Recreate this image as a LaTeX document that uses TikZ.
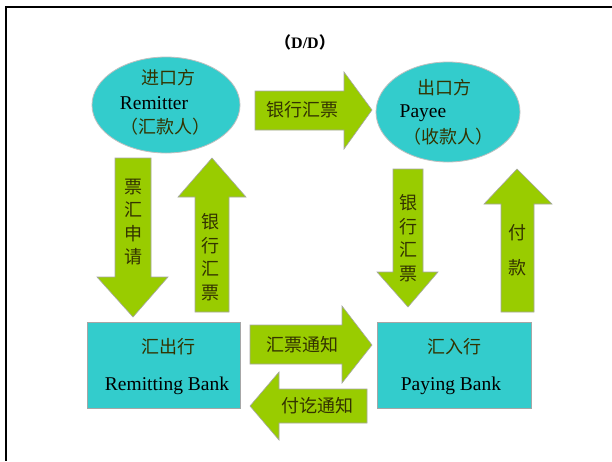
\documentclass[tikz,border=0pt]{standalone}
\usepackage{fontspec}
\setmainfont{Liberation Serif}
\newfontfamily\cjk{Noto Sans CJK SC}
\definecolor{cyanfill}{HTML}{33CCCC}
\definecolor{greenfill}{HTML}{99CC00}
\definecolor{txtdark}{HTML}{333300}
\begin{document}
\begin{tikzpicture}[x=1pt,y=-1pt,
  blockarrow/.style={fill=greenfill,draw=gray!70,line width=0.6pt},
  bank/.style={draw=gray!70,fill=cyanfill,line width=0.8pt},
  party/.style={draw=gray!50,fill=cyanfill,line width=0.8pt},
  cn/.style={font=\cjk\fontsize{18}{20}\selectfont,text=txtdark,inner sep=0pt},
  en/.style={font=\fontsize{19.5}{22}\selectfont,text=black,inner sep=0pt},
  vlab/.style={font=\cjk\fontsize{18}{23.5}\selectfont,text=txtdark,align=center,inner sep=0pt}]
\useasboundingbox (0,0) rectangle (612,461);
\fill[white] (0,0) rectangle (612,461);
% frame
\draw[line width=2.2pt] (5,7) -- (612,7);
\draw[line width=2.2pt] (6,7) -- (6,461);
% title
\node[inner sep=0pt,font=\bfseries\fontsize{16}{18}\selectfont] (title) at (305,42) {{\cjk（}D/D{\cjk）}};
% ellipses
\draw[party] (166,105) ellipse [x radius=74,y radius=48];
\coordinate (remitter) at (166,105);
\node[cn] (r1) at (168,78) {进口方};
\node[en] (r2) at (154,103) {Remitter};
\node[cn] (r3) at (165,127) {（汇款人）};
\draw[party] (448,112) ellipse [x radius=72,y radius=50];
\coordinate (payee) at (448,112);
\node[cn] (p1) at (444,88) {出口方};
\node[en] (p2) at (423,113) {Payee};
\node[cn] (p3) at (448,137) {（收款人）};
% banks
\draw[bank] (87,322) rectangle (240,408);
\node[cn] (b1) at (168,347) {汇出行};
\node[en] (b2) at (167,386) {Remitting Bank};
\draw[bank] (377,322) rectangle (531,408);
\node[cn] (c1) at (454,347) {汇入行};
\node[en] (c2) at (451,386) {Paying Bank};
% top arrow
\draw[blockarrow] (255,91) -- (344,91) -- (344,72) -- (372,110) -- (344,149) -- (344,130) -- (255,130) -- cycle;
\node[cn] (a1) at (302,110) {银行汇票};
% bottom right arrow
\draw[blockarrow] (250,325) -- (342,325) -- (342,306) -- (372,345) -- (342,383) -- (342,364) -- (250,364) -- cycle;
\node[cn] (a2) at (302,345) {汇票通知};
% bottom left arrow
\draw[blockarrow] (367,389) -- (279,389) -- (279,372) -- (250,406) -- (279,440) -- (279,423) -- (367,423) -- cycle;
\node[cn] (a3) at (317,406) {付讫通知};
% left down arrow
\draw[blockarrow] (115,158) -- (151,158) -- (151,277) -- (168,277) -- (133,317) -- (97,277) -- (115,277) -- cycle;
\node[vlab] (a4) at (133,222) {票\\汇\\申\\请};
% left up arrow
\draw[blockarrow] (212,158) -- (246,197) -- (229,197) -- (229,312) -- (195,312) -- (195,197) -- (178,197) -- cycle;
\node[vlab] (a5) at (210,257) {银\\行\\汇\\票};
% right down arrow
\draw[blockarrow] (393,169) -- (423,169) -- (423,272) -- (438,272) -- (408,307) -- (377,272) -- (393,272) -- cycle;
\node[vlab] (a6) at (408,238) {银\\行\\汇\\票};
% right up arrow
\draw[blockarrow] (517,169) -- (552,204) -- (534,204) -- (534,312) -- (501,312) -- (501,204) -- (484,204) -- cycle;
\node[vlab,font=\cjk\fontsize{18}{35}\selectfont] (a7) at (517,250) {付\\款};
\end{tikzpicture}
\end{document}
